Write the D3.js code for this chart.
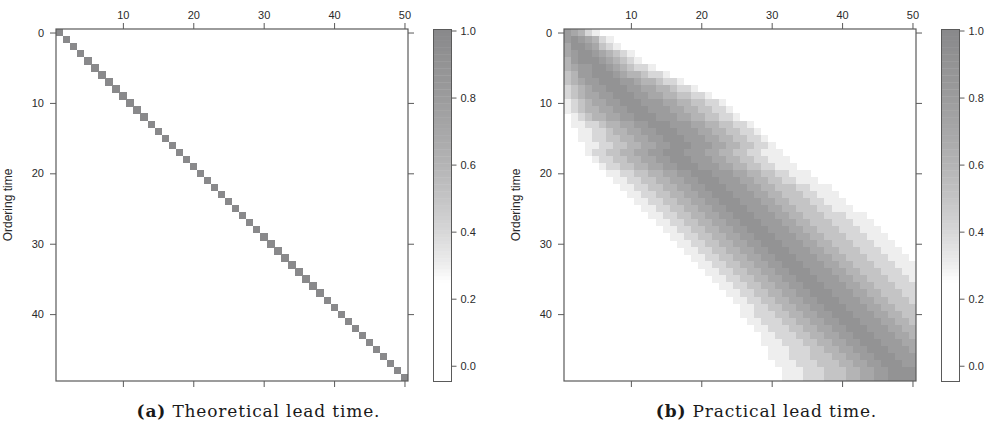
<!DOCTYPE html>
<html>
<head>
<meta charset="utf-8">
<script src="https://cdn.jsdelivr.net/npm/d3@7"></script>
<style>
  html, body { margin: 0; padding: 0; background: #ffffff; }
  svg { display: block; }
</style>
</head>
<body>
<svg id="chart" width="988" height="432"></svg>
<script>
// ---- data -------------------------------------------------------------
// Ordering times (rows, 0..49); delivery periods are columns 1..50.
const orderingTimes = [0,1,2,3,4,5,6,7,8,9,10,11,12,13,14,15,16,17,18,19,20,21,22,23,24,
  25,26,27,28,29,30,31,32,33,34,35,36,37,38,39,40,41,42,43,44,45,46,47,48,49];

// Theoretical lead time: every order is delivered exactly one period later.
const theoreticalLead = [1,1,1,1,1,1,1,1,1,1,1,1,1,1,1,1,1,1,1,1,1,1,1,1,1,
  1,1,1,1,1,1,1,1,1,1,1,1,1,1,1,1,1,1,1,1,1,1,1,1,1];

// Practical lead time: first delivery period with weight, per ordering time,
// and the weights (in tenths) for that period and the following ones.
const practicalStart = [1,1,1,1,1,1,1,1,1,1,1,1,2,2,3,3,4,4,5,6,7,8,9,10,11,
  12,13,14,15,16,17,18,19,20,21,22,23,24,25,26,26,27,28,29,29,30,30,31,32,32];
const practicalWeights = [
  "87643",
  "8987643",
  "79987543",
  "7899876543",
  "68999876543",
  "6788998765443",
  "568899987665443",
  "56788999887665443",
  "4567889998877665443",
  "456778899988776655443",
  "34567788999888776655443",
  "345667788999888776655443",
  "345667788999888776655443",
  "33445667788999888776655443",
  "33445667788999888776655443",
  "334455667788999888776655443",
  "334455667788999888776655443",
  "3445566778899988877665544333",
  "3445566778899988877665544333",
  "3445566778899988877665544333",
  "33445566778899988877665544333",
  "33445566778899988877665544333",
  "334455667788999888776655544333",
  "334455667788999888776655544333",
  "334455667788999888776655544333",
  "334455667788999888776655544333",
  "3344556677889998887766555444333",
  "3344556677889998887766555444333",
  "3344556677889998887766555444333",
  "3344556677889998887766555444333",
  "3344556677889998887766555444333",
  "3344556677889998887766555444333",
  "3344556677889998887766555444333",
  "3344556677889998887766555444333",
  "334455667788999888776655544433",
  "33445566778899988877665554443",
  "3344556677889998887766555444",
  "334455667788999888776655544",
  "33445566778899988877665554",
  "3344556677889998887766555",
  "3344455667788999888776655",
  "334445566778899988877665",
  "33444556677889998887766",
  "3344455667788999888776",
  "3334445566778899988877",
  "333444556677889998887",
  "333444555667788999888",
  "33344455566778899988",
  "3334445556677889999",
  "3334445556677889999"
];

// Axis ticks and colour key
const xTickValues = [10, 20, 30, 40, 50];
const yTickValues = [0, 10, 20, 30, 40];
const keyTickValues = [0, 0.2, 0.4, 0.6, 0.8, 1.0];
const keyStops  = [-0.05, 0.25, 0.30, 0.40, 0.50, 0.60, 0.70, 0.80, 0.90, 1.00];
const keyColors = ["#ffffff", "#ffffff", "#eeeeee", "#d7d7d8", "#c4c4c5",
                   "#b4b4b5", "#a7a7a8", "#9c9c9d", "#939394", "#89898b"];

const panelCaptions = [
  { tag: "(a)", text: "Theoretical lead time." },
  { tag: "(b)", text: "Practical lead time." }
];
const yAxisTitle = "Ordering time";

// ---- build cell lists -------------------------------------------------
const theoreticalCells = orderingTimes.map((t, i) => ({ row: t, col: t + theoreticalLead[i], value: 1 }));
const practicalCells = [];
orderingTimes.forEach((t, i) => {
  const s = practicalStart[i];
  const w = practicalWeights[i];
  for (let k = 0; k < w.length; k++) {
    const col = s + k;
    if (col <= 50) practicalCells.push({ row: t, col: col, value: +w[k] / 10 });
  }
});

// ---- drawing ----------------------------------------------------------
const svg = d3.select("#chart");
const color = d3.scaleLinear().domain(keyStops).range(keyColors).clamp(true);

const AXIS_COLOR = "#5a5a5a";
const TEXT_COLOR = "#2a2a2a";
const FONT = "'Liberation Sans', Arial, Helvetica, sans-serif";

const panels = [
  { left: 56,  cells: theoreticalCells, caption: panelCaptions[0] },
  { left: 564, cells: practicalCells,   caption: panelCaptions[1] }
];
const plotTop = 29, plotSize = 352;
const keyOffset = 377.5, keyWidth = 18;
const captionNodes = [];

panels.forEach(p => {
  const g = svg.append("g");
  const x = d3.scaleLinear().domain([0.5, 50.5]).range([p.left, p.left + plotSize]);
  const y = d3.scaleLinear().domain([-0.5, 49.5]).range([plotTop, plotTop + plotSize]);
  const cw = x(1) - x(0), ch = y(1) - y(0);

  // heat cells
  g.append("g").selectAll("rect")
    .data(p.cells.filter(d => d.value > 0))
    .join("rect")
    .attr("x", d => x(d.col - 0.5))
    .attr("y", d => y(d.row - 0.5))
    .attr("width", cw + 0.3)
    .attr("height", ch + 0.3)
    .attr("fill", d => color(d.value))
    .attr("shape-rendering", "crispEdges");

  // axes on all four sides; labels only top and left
  const styleAxis = sel => {
    sel.select(".domain").remove();
    sel.selectAll(".tick line").attr("stroke", AXIS_COLOR);
    sel.selectAll(".tick text").attr("fill", TEXT_COLOR)
      .style("font-family", FONT).style("font-size", "11px");
  };
  g.append("g").attr("transform", `translate(0,${plotTop})`)
    .call(d3.axisTop(x).tickValues(xTickValues).tickSize(6).tickPadding(4)).call(styleAxis);
  g.append("g").attr("transform", `translate(0,${plotTop + plotSize})`)
    .call(d3.axisBottom(x).tickValues(xTickValues).tickSize(6).tickFormat("")).call(styleAxis);
  g.append("g").attr("transform", `translate(${p.left},0)`)
    .call(d3.axisLeft(y).tickValues(yTickValues).tickSize(6).tickPadding(6)).call(styleAxis);
  g.append("g").attr("transform", `translate(${p.left + plotSize},0)`)
    .call(d3.axisRight(y).tickValues(yTickValues).tickSize(6).tickFormat("")).call(styleAxis);

  // frame
  g.append("rect")
    .attr("x", p.left).attr("y", plotTop).attr("width", plotSize).attr("height", plotSize)
    .attr("fill", "none").attr("stroke", AXIS_COLOR).attr("stroke-width", 1.2);

  // y-axis title
  g.append("text")
    .attr("transform", `translate(${p.left - 44},${plotTop + plotSize / 2}) rotate(-90)`)
    .attr("text-anchor", "middle")
    .attr("fill", TEXT_COLOR)
    .style("font-family", FONT).style("font-size", "12px")
    .text(yAxisTitle);

  // colour key
  const kx = p.left + keyOffset;
  const ky = d3.scaleLinear().domain([-0.047, 1.003]).range([plotTop + plotSize + 0.5, plotTop + 0.5]);
  const steps = d3.range(0, 100).map(i => -0.047 + (i + 0.5) * (1.05 / 100));
  const stepH = Math.abs(ky(0) - ky(1.05 / 100));
  g.append("g").selectAll("rect")
    .data(steps)
    .join("rect")
    .attr("x", kx).attr("width", keyWidth)
    .attr("y", d => ky(d) - stepH / 2)
    .attr("height", stepH + 0.4)
    .attr("fill", d => color(d));
  g.append("rect")
    .attr("x", kx).attr("y", plotTop + 0.5).attr("width", keyWidth).attr("height", plotSize)
    .attr("fill", "none").attr("stroke", AXIS_COLOR).attr("stroke-width", 1);
  g.append("g").attr("transform", `translate(${kx + keyWidth},0)`)
    .call(d3.axisRight(ky).tickValues(keyTickValues).tickSize(5).tickPadding(4).tickFormat(d3.format(".1f")))
    .call(styleAxis);

  // caption
  const cap = svg.append("text")
    .attr("x", p.left + plotSize / 2 + 26).attr("y", 417)
    .attr("text-anchor", "middle")
    .attr("fill", "#1a1a1a")
    .style("font-family", "'DejaVu Serif', 'Liberation Serif', serif")
    .style("font-size", "17px");
  cap.append("tspan").attr("font-weight", "bold").text(p.caption.tag);
  cap.append("tspan").text(" " + p.caption.text);
  captionNodes.push(cap);
});

// fit the first caption to 243px; the second keeps the same proportion
const natural = captionNodes.map(c => c.node().getComputedTextLength());
const spread = 243 / natural[0];
captionNodes.forEach((c, i) => c.attr("textLength", natural[i] * spread).attr("lengthAdjust", "spacing"));
</script>
</body>
</html>
